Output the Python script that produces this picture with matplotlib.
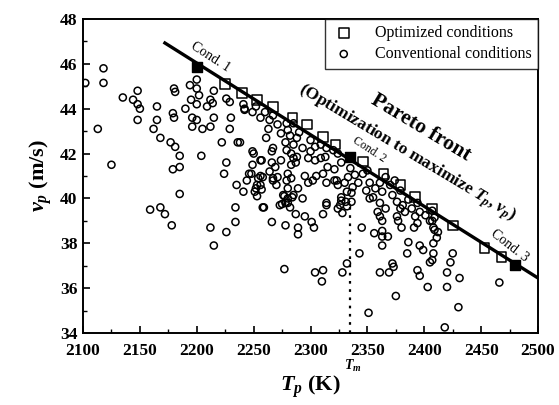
import numpy as np
import matplotlib.pyplot as plt
from matplotlib.ticker import MultipleLocator
import matplotlib.transforms as mtransforms

plt.rcParams['font.family'] = ['Liberation Serif', 'DejaVu Serif']
plt.rcParams['mathtext.fontset'] = 'custom'
plt.rcParams['mathtext.rm'] = 'Liberation Serif:bold'
plt.rcParams['mathtext.it'] = 'Liberation Serif:italic:bold'
plt.rcParams['mathtext.bf'] = 'Liberation Serif:bold'

# 常规条件 (conventional conditions), T_p [K] / v_p [m/s]
conv_T = [2102, 2118, 2118, 2113, 2125, 2135, 2144, 2148, 2148, 2150, 2148, 2162, 2165, 2165,
          2168, 2177, 2179, 2180, 2180, 2181, 2181, 2185, 2185, 2179, 2185, 2190, 2194, 2195,
          2200, 2200, 2200, 2196, 2196, 2200, 2202, 2205, 2204, 2209, 2212, 2215, 2214, 2215,
          2212, 2222, 2226, 2229, 2230, 2229, 2226, 2224, 2236, 2242, 2250, 2249, 2246, 2244,
          2235, 2241, 2257, 2256, 2253, 2257, 2264, 2267, 2159, 2168, 2172, 2178, 2212, 2215,
          2226, 2234, 2234, 2253, 2259, 2266, 2273,
          2278, 2287, 2289, 2289, 2295, 2301, 2303, 2311, 2314, 2277, 2304, 2311, 2310, 2328,
          2332, 2343, 2345, 2356, 2363, 2363, 2368, 2363, 2361, 2369, 2372, 2373, 2375, 2351,
          2385, 2386, 2394, 2396, 2403, 2399, 2396, 2405, 2408, 2420, 2420, 2423, 2425, 2431,
          2430, 2418, 2466, 2408, 2412, 2408, 2407, 2394, 2391, 2380, 2377, 2363, 2379, 2361,
          2352, 2275, 2280, 2277, 2284, 2324, 2328, 2332, 2336, 2327,
          2361, 2376, 2392, 2405, 2409, 2411, 2407, 2323, 2332, 2326, 2336,
          2241, 2242, 2249, 2252, 2256, 2260, 2264, 2267, 2263, 2261, 2271, 2274, 2280, 2278,
          2282, 2285, 2288, 2279, 2285, 2290, 2293, 2300, 2304, 2300, 2309, 2314, 2313, 2320,
          2324, 2327, 2267, 2266, 2279, 2283, 2285, 2288, 2287, 2238, 2249, 2256, 2266, 2269,
          2274, 2283, 2298, 2304, 2309, 2315, 2321, 2248, 2254, 2258, 2256, 2267, 2271, 2270,
          2280, 2279, 2283, 2280, 2289, 2295, 2298, 2302, 2305, 2311, 2314, 2321, 2324, 2330,
          2276, 2280, 2285, 2278, 2282, 2293, 2314, 2327, 2331, 2258, 2251, 2252,
          2335, 2339, 2333, 2342, 2346, 2350, 2352, 2349, 2357, 2361, 2363, 2355, 2366, 2370,
          2372, 2374, 2379, 2376, 2381, 2386, 2389, 2383, 2394, 2396, 2401, 2366, 2359, 2337,
          2407, 2409]
conv_v = [45.15, 45.8, 45.15, 43.1, 41.5, 44.5, 44.4, 44.8, 44.2, 44.0, 43.5, 43.1, 44.1, 43.5,
          42.7, 42.5, 43.8, 43.6, 44.9, 44.75, 42.3, 41.9, 41.4, 41.3, 40.2, 44.0, 45.05, 44.4,
          45.3, 44.9, 44.2, 43.6, 43.2, 43.5, 44.6, 43.1, 41.9, 44.1, 44.4, 44.8, 44.25, 43.6,
          43.2, 42.5, 44.45, 44.3, 43.6, 43.1, 41.6, 41.1, 42.5, 44.0, 42.0, 41.5, 41.1, 40.8,
          40.6, 40.3, 41.7, 41.0, 40.6, 40.4, 41.2, 40.8, 39.5, 39.6, 39.3, 38.8, 38.7, 37.9,
          38.5, 38.95, 39.6, 40.1, 39.6, 38.95, 39.7,
          38.8, 39.3, 38.7, 38.4, 39.2, 38.95, 38.7, 39.3, 39.7, 36.85, 36.7, 36.8, 36.3, 36.7,
          37.1, 37.55, 38.7, 38.45, 37.9, 38.3, 38.3, 38.55, 36.7, 36.7, 37.1, 36.95, 35.65, 34.9,
          37.55, 38.05, 36.8, 36.55, 36.05, 37.7, 37.9, 37.15, 37.55, 36.7, 36.05, 37.15, 37.55, 36.45,
          35.15, 34.25, 36.25, 38.0, 38.5, 38.7, 39.0, 38.9, 38.7, 38.7, 39.0, 39.0, 39.55, 39.8,
          40.0, 39.75, 39.8, 40.1, 40.05, 39.55, 39.35, 39.65, 39.85, 39.9,
          39.2, 39.2, 39.2, 39.0, 38.6, 38.25, 37.25, 40.8, 40.3, 39.7, 40.25,
          44.2, 43.95, 43.85, 44.1, 43.6, 43.85, 43.5, 43.7, 43.1, 42.7, 43.3, 42.9, 43.05, 42.5,
          42.8, 42.4, 42.7, 43.35, 43.35, 42.95, 42.25, 42.6, 42.3, 42.1, 42.4, 42.25, 41.85, 42.15,
          42.0, 41.6, 42.25, 42.1, 42.15, 42.0, 41.8, 41.85, 41.6, 42.5, 42.1, 41.7, 41.6, 41.4,
          41.7, 41.5, 41.8, 41.7, 41.8, 41.4, 41.3, 41.1, 40.9, 40.95, 40.6, 40.9, 40.95, 40.6,
          41.1, 40.8, 40.9, 40.45, 40.45, 41.0, 40.7, 40.8, 41.0, 41.1, 40.7, 40.8, 40.6, 40.7,
          40.15, 40.0, 40.15, 39.8, 39.6, 40.0, 39.8, 40.05, 39.85, 39.6, 40.3, 40.45,
          41.35, 41.05, 40.95, 40.7, 41.1, 41.25, 40.7, 40.35, 40.45, 40.7, 40.3, 40.05, 40.95, 40.6,
          40.15, 40.8, 40.35, 39.85, 39.7, 39.95, 39.55, 39.4, 39.8, 39.4, 39.25, 39.55, 39.4, 40.5,
          39.45, 39.15]

# 优化条件 (optimized conditions)
opt_T = [2225, 2240, 2253, 2267, 2284, 2297, 2311, 2322, 2346, 2364, 2379, 2392, 2407, 2425, 2453, 2468]
opt_v = [45.1, 44.7, 44.4, 44.07, 43.6, 43.3, 42.75, 42.4, 41.65, 41.1, 40.6, 40.05, 39.55, 38.8, 37.8, 37.4]
cond_T = [2200, 2335, 2480]
cond_v = [45.85, 41.85, 37.05]
cond_labels = ['Cond. 1', 'Cond. 2', 'Cond. 3']
pareto_T = [2172, 2500]
pareto_v = [46.93, 36.45]
T_m = 2335

fig = plt.figure(figsize=(5.59, 4.05), dpi=100)
ax = fig.add_axes([0.1485, 0.1778, 0.814, 0.7753])

ax.plot(pareto_T, pareto_v, color='black', lw=2.4, zorder=3)
ax.plot([T_m, T_m], [34, 39.9], color='black', lw=1.6, ls=(0, (1.2, 2.5)), zorder=1)
h_conv = ax.scatter(conv_T, conv_v, s=26, marker='o', facecolors='none',
                    edgecolors='black', linewidths=1.1, zorder=2)
h_opt = ax.scatter(opt_T, opt_v, s=48, marker='s', facecolors='none',
                   edgecolors='black', linewidths=1.1, zorder=4)
ax.scatter(cond_T, cond_v, s=55, marker='s', color='black', zorder=5)

ax.set_xlim(2100, 2500)
ax.set_ylim(34, 48)
ax.xaxis.set_major_locator(MultipleLocator(50))
ax.xaxis.set_minor_locator(MultipleLocator(25))
ax.yaxis.set_major_locator(MultipleLocator(2))
ax.yaxis.set_minor_locator(MultipleLocator(1))
ax.tick_params(which='both', direction='in', top=False, right=False)
ax.tick_params(which='major', length=5, width=1.2, labelsize=12.5)
ax.tick_params(axis='x', which='major', pad=7)
ax.tick_params(axis='y', which='major', pad=4)
ax.tick_params(which='minor', length=3, width=1.0)
for lab in ax.get_xticklabels() + ax.get_yticklabels():
    lab.set_fontweight('bold')
for sp in ax.spines.values():
    sp.set_linewidth(1.4)

ax.set_xlabel(r'$T_p$ (K)', fontsize=16, fontweight='bold', labelpad=11)
ax.set_ylabel(r'$v_p$ (m/s)', fontsize=16, fontweight='bold', labelpad=4)

leg = ax.legend([h_opt, h_conv], ['Optimized conditions', 'Conventional conditions'],
                loc='upper right', borderaxespad=0, fancybox=False, frameon=True,
                edgecolor='black', fontsize=11.5, handletextpad=1.2, handlelength=1.5,
                borderpad=0.4, labelspacing=0.3)
leg.get_frame().set_linewidth(1.0)

ax.text(2397, 43.14, 'Pareto front', rotation=-31, fontsize=15.5, fontweight='bold',
        ha='center', va='center', rotation_mode='anchor')
ax.text(2385, 42.0, r'(Optimization to maximize $T_p$, $v_p$)', rotation=-31, fontsize=12.5,
        fontweight='bold', ha='center', va='center', rotation_mode='anchor')
ax.text(2212, 46.3, cond_labels[0], rotation=-33, fontsize=10, ha='center', va='center',
        rotation_mode='anchor')
ax.text(2352, 42.16, cond_labels[1], rotation=-33, fontsize=8.5, ha='center', va='center',
        rotation_mode='anchor')
ax.text(2475, 37.9, cond_labels[2], rotation=-38, fontsize=10, ha='center', va='center',
        rotation_mode='anchor')

trans = mtransforms.blended_transform_factory(ax.transData, ax.transAxes)
ax.text(T_m + 2, -0.105, r'$T_m$', transform=trans, fontsize=10, ha='center', va='center')

fig.savefig('out.png', dpi=100)
